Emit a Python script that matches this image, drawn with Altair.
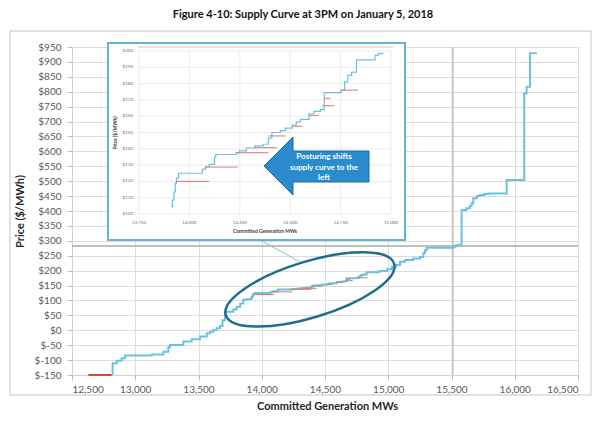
import altair as alt
import pandas as pd

FONT = "Lato"

# ---------------- data ----------------
# Supply curve vertices (step-after), committed MW vs offer price
low_mw = [12821, 12821, 12853, 12893, 12919, 13130, 13222, 13261, 13275, 13380, 13446,
          13512, 13565, 13591, 13617, 13644, 13670, 13690, 13709, 13775, 13802, 13830,
          13854, 13880]
low_price = [-150, -111, -102, -94, -85, -81, -72, -57, -49, -38, -30,
             -21, -10, -5, 1, 7, 14, 34, 62, 70, 79, 90,
             102, 104]

# section shown in the zoomed window
mid_mw = [13910, 13916, 13923, 13930, 13936, 13946, 14064, 14081, 14098, 14125, 14131,
          14232, 14249, 14283, 14325, 14366, 14392, 14409, 14451, 14476, 14510, 14530,
          14551, 14593, 14618, 14650, 14669, 14753, 14770, 14786, 14805, 14829, 14921,
          14938, 14963]
mid_price = [104.5, 108.5, 113.5, 119, 122, 125, 127.5, 129, 130.5, 135, 136.5,
             137.5, 138.7, 140.5, 141.8, 142.8, 146.5, 150, 151.2, 152.7, 154.6, 156.5,
             158, 161.5, 163, 164, 174.5, 176, 181, 185, 187, 194.5, 197.5,
             198.6, 198.6]

high_mw = [14990, 15030, 15060, 15093, 15132, 15198, 15251, 15277, 15290, 15304, 15514,
           15530, 15555, 15580, 15619, 15645, 15659, 15672, 15700, 15725, 15760, 15791,
           15936, 16075, 16094, 16121, 16174]
high_price = [205, 213, 219, 230, 236, 241, 246, 258, 268, 277, 280,
              284, 287, 403, 409, 418, 426, 443, 450, 454, 457, 459,
              504, 795, 817, 929, 929]

# posturing offers (horizontal segments shifted right of the curve)
post_start = [13933, 14076, 14232, 14325, 14392, 14510, 14593, 14660, 14669, 14753]
post_end = [14098, 14240, 14392, 14433, 14476, 14560, 14640, 14719, 14700, 14837]
post_price = [120.0, 128.8, 137.6, 140.7, 147.9, 153.8, 160.5, 166.4, 171.0, 176.0]

# price-floor block
floor_start = [12629]
floor_end = [12814]
floor_price = [-150]

# clearing reference lines
clear_mw = [15510]
clear_price = [283]

# highlighted region (ellipse centre) and its leader line to the zoom window
ellipse_mw = [14381]
ellipse_price = [137]
leader_mw = [13986]
leader_mw2 = [14302]
leader_price = [303]
leader_price2 = [229]

# axis ticks
x_ticks = list(range(12500, 16501, 500))
y_ticks = list(range(-150, 951, 50))
inset_x_ticks = [13750, 14000, 14250, 14500, 14750, 15000]
inset_y_ticks = list(range(100, 201, 10))

TITLE = "Figure 4-10: Supply Curve at 3PM on January 5, 2018"
ARROW_TEXT = "Posturing shifts\nsupply curve to the\nleft"

# ---------------- tables ----------------
curve = pd.DataFrame({"mw": low_mw + mid_mw + high_mw,
                      "price": low_price + mid_price + high_price})
curve["seq"] = range(len(curve))
inset_curve = pd.DataFrame({"mw": mid_mw, "price": mid_price})
inset_curve["seq"] = range(len(inset_curve))
posture = pd.DataFrame({"mw": post_start, "mw2": post_end, "price": post_price})
floor = pd.DataFrame({"mw": floor_start, "mw2": floor_end, "price": floor_price})
vline = pd.DataFrame({"mw": clear_mw})
hline = pd.DataFrame({"price": clear_price})
ell = pd.DataFrame({"mw": ellipse_mw, "price": ellipse_price})
leader = pd.DataFrame({"mw": leader_mw, "mw2": leader_mw2,
                       "price": leader_price, "price2": leader_price2})
one = pd.DataFrame({"k": [0]})
ixt = pd.DataFrame({"mw": inset_x_ticks})
iyt = pd.DataFrame({"price": inset_y_ticks})

W, H = 506, 328

# ---------------- main chart ----------------
x_axis = alt.Axis(values=x_ticks, format=",d", title="Committed Generation MWs",
                  labelFont=FONT, labelFontSize=10, labelColor="#595959",
                  titleFont=FONT, titleFontSize=11, titleFontWeight="bold",
                  titleColor="#262626", titleY=31, titleX=255, titleBaseline="middle",
                  grid=True, gridColor="#dcdcdc", domainColor="#d0d0d0",
                  tickColor="#bfbfbf", tickSize=5, labelPadding=4)
y_axis = alt.Axis(values=y_ticks, labelExpr="'$' + datum.value", title="Price ($/MWh)",
                  labelFont=FONT, labelFontSize=10, labelColor="#595959",
                  titleFont=FONT, titleFontSize=11, titleFontWeight="bold",
                  titleColor="#262626", titleX=-52, titleY=H / 2, titleAngle=270,
                  titleBaseline="middle", titleAlign="center",
                  grid=True, gridColor="#dcdcdc", domainColor="#d0d0d0",
                  tickColor="#bfbfbf", tickSize=5, labelPadding=6)

xs = alt.Scale(domain=[12500, 16500], nice=False, zero=False)
ys = alt.Scale(domain=[-150, 950], nice=False, zero=False)
X = alt.X("mw:Q", scale=xs, axis=x_axis)
Y = alt.Y("price:Q", scale=ys, axis=y_axis)

frame = alt.Chart(one).mark_rect(fillOpacity=0, stroke="#c4c4c4", strokeWidth=1).encode(
    x=alt.value(-62), x2=alt.value(519), y=alt.value(-16), y2=alt.value(H + 20))

title = alt.Chart(one).mark_text(font=FONT, fontSize=11, fontWeight="bold",
                                 color="#111111", align="center", baseline="middle").encode(
    x=alt.value(231), y=alt.value(-32), text=alt.value(TITLE))

h_rule = alt.Chart(hline).mark_rule(color="#a8a8a8", strokeWidth=1.5).encode(y=Y)
v_rule = alt.Chart(vline).mark_rule(color="#c8c8c8", strokeWidth=2).encode(x=X)

supply = alt.Chart(curve).mark_line(color="#68c3dd", strokeWidth=2,
                                    interpolate="step-after").encode(
    x=X, y=Y, order="seq:Q")

floor_seg = alt.Chart(floor).mark_rule(color="#d9473c", strokeWidth=2).encode(
    x=X, x2="mw2:Q", y=Y)
post_main = alt.Chart(posture).mark_rule(color="#e0776e", strokeWidth=1).encode(
    x=X, x2="mw2:Q", y=Y)

ELLIPSE = ("M -88 0 C -88 -15.5 -48.6 -28 0 -28 C 48.6 -28 88 -15.5 88 0 "
           "C 88 15.5 48.6 28 0 28 C -48.6 28 -88 15.5 -88 0 Z")
ellipse = alt.Chart(ell).mark_point(shape=ELLIPSE, size=4, angle=343, filled=False,
                                    stroke="#1f6e8c", strokeWidth=2.5, opacity=1).encode(
    x=X, y=Y)
leader_line = alt.Chart(leader).mark_rule(color="#8dbccc", strokeWidth=1).encode(
    x=X, x2="mw2:Q", y=Y, y2="price2:Q")

main = alt.layer(frame, title, v_rule, h_rule, floor_seg, supply, post_main,
                 ellipse, leader_line)

# ---------------- zoom window ----------------
ixs = alt.Scale(domain=[13750, 15000], range=[67, 319], nice=False, zero=False)
iys = alt.Scale(domain=[100, 200], range=[167, 4], nice=False, zero=False)
IX = alt.X("mw:Q", scale=ixs, axis=None)
IY = alt.Y("price:Q", scale=iys, axis=None)

box = alt.Chart(one).mark_rect(fill="white", stroke="#5cb9d6", strokeWidth=2).encode(
    x=alt.value(36), x2=alt.value(333), y=alt.value(-4), y2=alt.value(193))
top_line = alt.Chart(one).mark_rule(color="#f2b8b4", strokeWidth=1).encode(
    x=alt.value(66), x2=alt.value(321), y=alt.value(0))
igrid_v = alt.Chart(ixt).mark_rule(color="#e6e6e6", strokeWidth=0.8).encode(
    x=IX, y=alt.value(4), y2=alt.value(167))
igrid_h = alt.Chart(iyt).mark_rule(color="#e6e6e6", strokeWidth=0.8).encode(
    y=IY, x=alt.value(67), x2=alt.value(319))
iylab = alt.Chart(iyt).mark_text(font=FONT, fontSize=4.5, color="#707070",
                                 align="right", baseline="middle").encode(
    y=IY, x=alt.value(61), text=alt.Text("price:Q", format="$d"))
ixlab = alt.Chart(ixt).mark_text(font=FONT, fontSize=4.5, color="#707070",
                                 align="center", baseline="middle").encode(
    x=IX, y=alt.value(176), text=alt.Text("mw:Q", format=",d"))
iytitle = alt.Chart(one).mark_text(font=FONT, fontSize=5, fontWeight="bold", angle=270,
                                   color="#404040", align="center", baseline="middle").encode(
    x=alt.value(43), y=alt.value(86), text=alt.value("Price ($/MWh)"))
ixtitle = alt.Chart(one).mark_text(font=FONT, fontSize=5, fontWeight="bold",
                                   color="#404040", align="center", baseline="middle").encode(
    x=alt.value(193), y=alt.value(184), text=alt.value("Committed Generation MWs"))
icurve = alt.Chart(inset_curve).mark_line(color="#68c3dd", strokeWidth=1.2,
                                          interpolate="step-after").encode(
    x=IX, y=IY, order="seq:Q")
ipost = alt.Chart(posture).mark_rule(color="#e0776e", strokeWidth=1).encode(
    x=IX, x2="mw2:Q", y=IY)

ARROW = "M -53 0 L -24 -29 L -24 -15 L 52 -15 L 52 16 L -24 16 L -24 29 Z"
arrow = alt.Chart(one).mark_point(shape=ARROW, size=4, filled=True, fill="#2a8ccc",
                                  stroke="#1c6a9c", strokeWidth=1, opacity=1).encode(
    x=alt.value(245), y=alt.value(119))
# first line is anchored at y; the following lines run downward
arrow_text = alt.Chart(one).mark_text(font=FONT, fontSize=8, fontWeight="bold",
                                      color="white", align="center", baseline="middle",
                                      lineBreak="\n", lineHeight=10.5).encode(
    x=alt.value(252), y=alt.value(110), text=alt.value(ARROW_TEXT))

inset = alt.layer(box, top_line, igrid_v, igrid_h, iylab, ixlab, iytitle, ixtitle,
                  icurve, ipost, arrow, arrow_text)

chart = alt.layer(main, inset).resolve_scale(x="independent", y="independent").properties(
    width=W, height=H,
    autosize=alt.AutoSizeParams(type="none"),
    padding={"left": 72, "top": 47, "right": 16, "bottom": 47},
    background="white",
).configure_view(stroke=None)

chart.save("out.html", embed_options={"renderer": "svg", "actions": False})
